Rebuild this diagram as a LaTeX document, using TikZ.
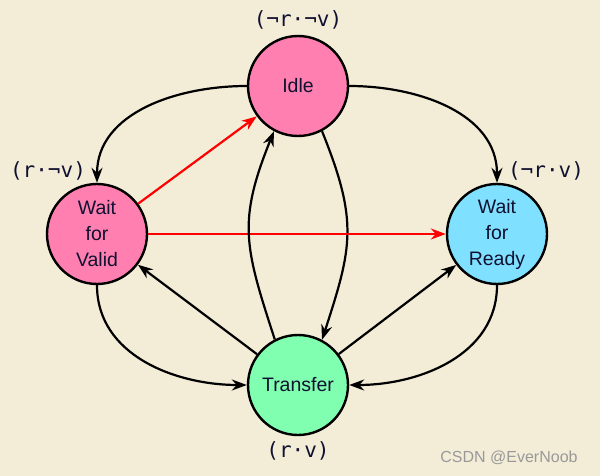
\documentclass[tikz,border=0pt]{standalone}
\usepackage{fontspec}
\setmainfont{Liberation Sans}
\newfontfamily\labelfont{DejaVu Sans Mono}
\usepackage{tikz}
\usetikzlibrary{arrows.meta}
\definecolor{PaperBg}{HTML}{F3EDD8}
\definecolor{StatePink}{HTML}{FF80B0}
\definecolor{StateCyan}{HTML}{80E0FF}
\definecolor{StateGreen}{HTML}{80FFB0}
\definecolor{TextInk}{HTML}{101030}

\begin{document}
\begin{tikzpicture}[
  x=1pt, y=-1pt,
  >={Stealth[length=15pt, width=11pt]},
  state/.style={circle, draw=black, line width=2.4pt, minimum size=100pt,
                inner sep=0pt, align=center, text=TextInk,
                font=\fontsize{19.5}{26}\selectfont},
  tr/.style={->, line width=2.2pt, color=black},
  redtr/.style={->, line width=2.2pt, color=red},
  cond/.style={font=\labelfont\fontsize{21}{24}\selectfont, text=TextInk},
]
  % background and page size
  \fill[PaperBg] (0,0) rectangle (600,476);
  \useasboundingbox (0,0) rectangle (600,476);

  % states
  \node[state, fill=StatePink]  (idle) at (298,86)  {Idle};
  \node[state, fill=StatePink]  (wv)   at (97,234)  {Wait\\for\\Valid};
  \node[state, fill=StateCyan]  (wr)   at (497,234) {Wait\\for\\Ready};
  \node[state, fill=StateGreen] (xfer) at (298,385) {Transfer};

  % conditions
  \node[cond] (cIdle) at (298,20)  {(¬r·¬v)};
  \node[cond] (cWv)   at (48,171)  {(r·¬v)};
  \node[cond] (cWr)   at (546,171) {(¬r·v)};
  \node[cond] (cXfer) at (298,451) {(r·v)};

  %% from Idle
  \draw[tr] (idle.west) to[out=180, in=90] (wv.north);
  \draw[tr] (idle.east) to[out=0, in=90] (wr.north);
  \draw[tr] (idle.-62) to[out=-68, in=72, looseness=1.2] (xfer.62);

  %% red (invalid) moves
  \draw[redtr] (wv) -- (idle);
  \draw[redtr] (wv) -- (wr);

  %% into Transfer
  \draw[tr] (wv.south) to[out=-90, in=180] (xfer.west);
  \draw[tr] (wr.south) to[out=-90, in=0] (xfer.east);

  %% from Transfer
  \draw[tr] (xfer) -- (wv);
  \draw[tr] (xfer) -- (wr);
  \draw[tr] (xfer.117) to[out=108, in=-112, looseness=1.2] (idle.242);

  % watermark
  \node[text=gray!80, font=\fontsize{16}{18}\selectfont] (mark) at (509,458) {CSDN @EverNoob};
\end{tikzpicture}
\end{document}
